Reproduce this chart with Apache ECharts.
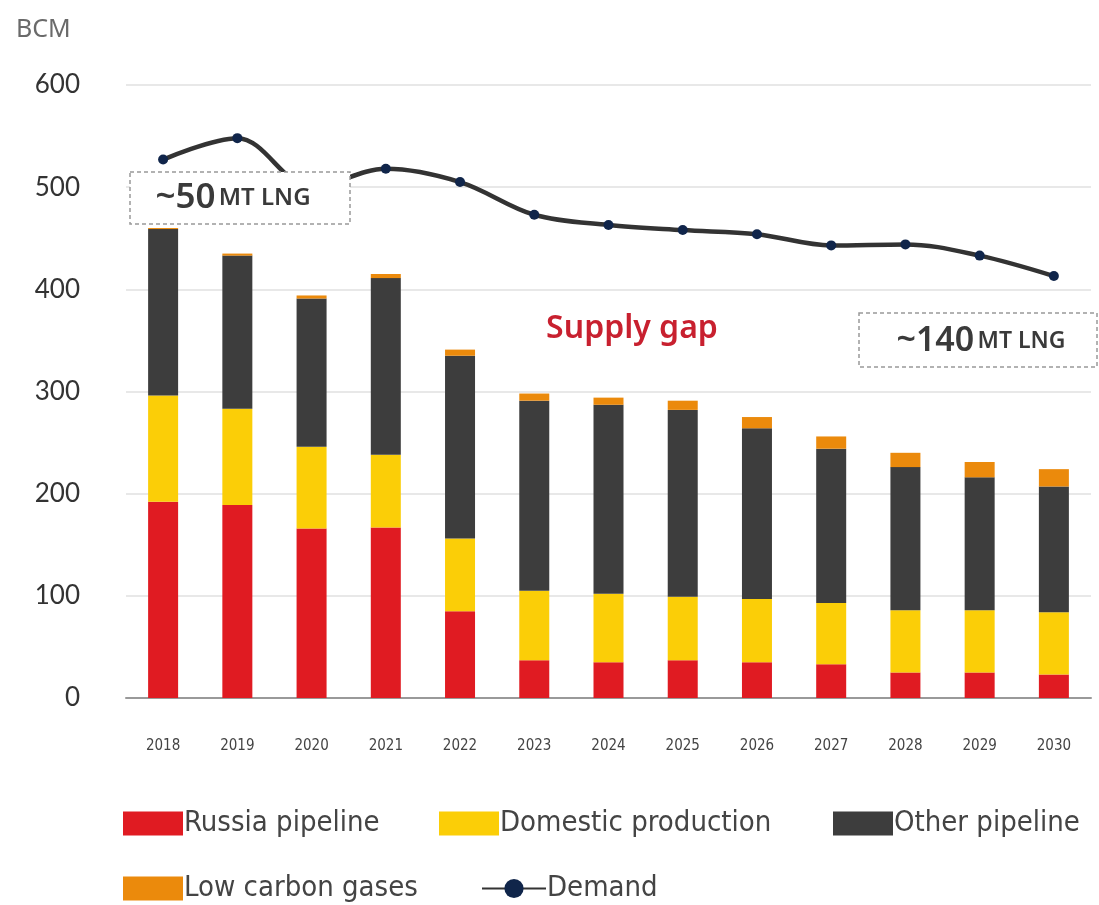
<!DOCTYPE html>
<html>
<head>
<meta charset="utf-8">
<script src="https://cdn.jsdelivr.net/npm/echarts@6/dist/echarts.min.js"></script>
<style>
html,body{margin:0;padding:0;background:#fff;}
#c{width:1099px;height:905px;}
</style>
</head>
<body>
<div id="c"></div>
<script>
const years = ['2018','2019','2020','2021','2022','2023','2024','2025','2026','2027','2028','2029','2030'];
const russiaPipeline = [192, 189, 166, 167, 85, 37, 35, 37, 35, 33, 25, 25, 23];
const domesticProduction = [104, 94, 80, 71, 71, 68, 67, 62, 62, 60, 61, 61, 61];
const otherPipeline = [163, 150, 145, 173, 179, 186, 185, 183, 167, 151, 140, 130, 123];
const lowCarbonGases = [1, 2, 3, 4, 6, 7, 7, 9, 11, 12, 14, 15, 17];
const demand = [527, 548, 500, 518, 505, 473, 463, 458, 454, 443, 444, 433, 413];
const yTicks = [0, 100, 200, 300, 400, 500, 600];

const narrow = "'Liberation Sans Narrow','DejaVu Sans Condensed',sans-serif";
const geo = "Lato,'Noto Sans',sans-serif";
const wide = "'Noto Sans',Lato,sans-serif";

const chart = echarts.init(document.getElementById('c'), null, {renderer:'canvas'});

function barSeries(name, data, color) {
  return {name, type:'bar', stack:'s', data, barWidth:30,
    itemStyle:{color}, emphasis:{disabled:true}};
}
function legendAt(name, left, top, w, h, icon) {
  const l = {data:[name], left, top, itemWidth:w, itemHeight:h, itemGap:0,
    selectedMode:false,
    textStyle:{fontFamily:narrow, fontSize:29, color:'#444', padding:[0,0,0,-4]}};
  if (icon) l.icon = icon;
  return l;
}

chart.setOption({
  animation:false,
  title:{text:'BCM', left:11, top:12, textStyle:{fontFamily:wide, fontSize:25, fontWeight:'normal', color:'#6a6a6a'}},
  legend:[
    legendAt('Russia pipeline', 118, 804, 60, 24, 'rect'),
    legendAt('Domestic production', 434, 804, 60, 24, 'rect'),
    legendAt('Other pipeline', 828, 804, 60, 24, 'rect'),
    legendAt('Low carbon gases', 118, 869, 60, 24, 'rect'),
    legendAt('Demand', 476, 869, 64, 24)
  ],
  grid:{left:126, right:8, top:85, bottom:207},
  xAxis:{type:'category', data:years,
    axisLine:{lineStyle:{color:'#999', width:2}}, axisTick:{show:false},
    axisLabel:{fontFamily:narrow, fontSize:15, color:'#444', margin:41}},
  yAxis:{type:'value', min:yTicks[0], max:yTicks[yTicks.length-1], interval:100,
    axisLine:{show:false}, axisTick:{show:false},
    splitLine:{lineStyle:{color:'#e8e8e8', width:2}},
    axisLabel:{fontFamily:geo, fontSize:26, color:'#333', margin:46}},
  series:[
    barSeries('Russia pipeline', russiaPipeline, '#e01b22'),
    barSeries('Domestic production', domesticProduction, '#fbce07'),
    barSeries('Other pipeline', otherPipeline, '#3d3d3d'),
    barSeries('Low carbon gases', lowCarbonGases, '#eb8a0c'),
    {name:'Demand', type:'line', data:demand, smooth:0.35, z:5,
      symbol:'circle', symbolSize:10,
      itemStyle:{color:'#10254a'},
      lineStyle:{color:'#333', width:4.5},
      emphasis:{disabled:true}}
  ],
  graphic:[
    {type:'rect', z:100, shape:{x:130, y:172, width:220, height:52},
      style:{fill:'#fff', stroke:'#999', lineWidth:1.5, lineDash:[4,3]}},
    {type:'text', z:101, x:233, y:198,
      style:{text:'{a|~50} {b|MT LNG}', align:'center', verticalAlign:'middle',
        rich:{a:{fontFamily:wide, fontSize:35, fontWeight:600, fill:'#3a3a3a'},
              b:{fontFamily:wide, fontSize:24, fontWeight:600, fill:'#3a3a3a'}}}},
    {type:'rect', z:100, shape:{x:859, y:313, width:238, height:54},
      style:{fill:'#fff', stroke:'#999', lineWidth:1.5, lineDash:[4,3]}},
    {type:'text', z:101, x:981, y:341,
      style:{text:'{a|~140} {b|MT LNG}', align:'center', verticalAlign:'middle',
        rich:{a:{fontFamily:wide, fontSize:34, fontWeight:600, fill:'#3a3a3a'},
              b:{fontFamily:wide, fontSize:23, fontWeight:600, fill:'#3a3a3a'}}}},
    {type:'text', z:101, x:632, y:329,
      style:{text:'Supply gap', align:'center', verticalAlign:'middle',
        fontFamily:wide, fontSize:32, fontWeight:600, fill:'#c8202f'}}
  ]
});
</script>
</body>
</html>
